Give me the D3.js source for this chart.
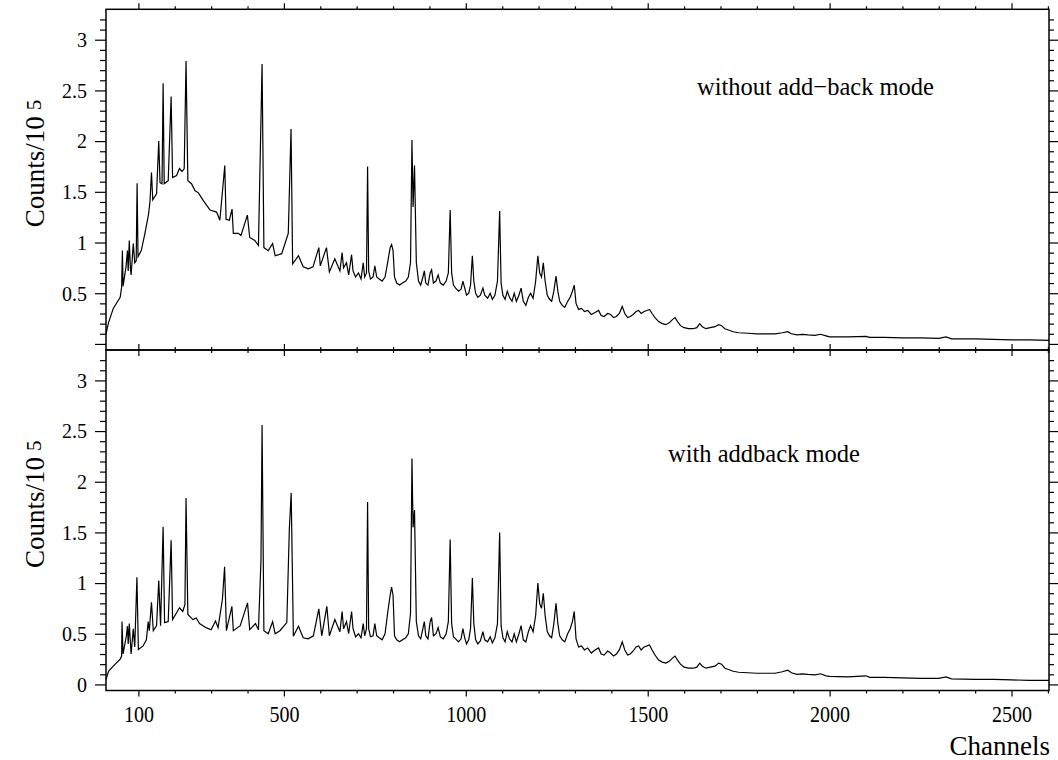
<!DOCTYPE html>
<html>
<head>
<meta charset="utf-8">
<script src="https://cdn.jsdelivr.net/npm/d3@7"></script>
<style>
  body { margin: 0; background: #fff; }
  text { font-family: "Liberation Serif", "DejaVu Serif", serif; fill: #000; }
</style>
</head>
<body>
<div id="chart"></div>
<script>
// spectrum: channel positions and counts (x 10^5)
var topChannels = [11,18,31,50,54,56,58,66,70,72,75,78,80,86,90,94,96.5,99,108,118,128,132,136,139.5,150,156,159.5,165,168,171,182,190,194,205,213,220,226,231,236,246,256,265,279,297,315,324,337.5,341,350,357.5,361,375,382,399.6,406,420,430,440,445,457,469,476,494,512,519.6,524,540,553,567,580,596,600,617,625,640,
  654,660,664,672,678,686,690,697,705,712,718,722,727,730,733,738,745,750,755,762,770,778,785,792,796,800,804,810,818,826,835,842,848,852,855,859,864,870,876,882,886,890,896,902,906,911,918,924,930,938,946,952,957,961,966,972,980,987,992,997,
  1002,1008,1013,1018,1022,1027,1033,1040,1047,1052,1060,1067,1073,1080,1087,1093,1097,1102,1108,1114,1120,1127,1133,1139,1146,1152,1158,1165,1172,1178,1185,1192,1198,1203,1208,1213,1218,1224,1230,1236,1242,1248,1253,1258,1265,1272,1280,1287,1293,1298,
  1303,1310,1318,1326,1335,1345,1355,1365,1372,1380,1390,1398,1406,1414,1422,1430,1437,1445,1452,1460,1468,1475,1482,1490,1498,1505,1512,1520,1530,1540,1550,1560,1568,1575,1582,1590,1600,1612,1625,1635,1643,1650,1660,1672,1685,1695,1703,1712,
  1720,1735,1750,1775,1800,1825,1850,1870,1885,1895,1910,1925,1940,1960,1975,1990,2000,2050,2100,2110,2150,2200,2250,2300,2320,2335,2400,2450,2500,2550,2603];
var topCounts = [0.10,0.21,0.35,0.46,0.56,0.92,0.57,0.76,0.92,0.72,1.02,0.75,0.68,0.99,0.80,0.82,1.585,0.86,0.92,1.09,1.28,1.41,1.69,1.42,1.48,2.00,1.59,1.58,2.57,1.58,1.61,2.44,1.64,1.66,1.73,1.70,1.73,2.79,1.61,1.58,1.51,1.49,1.41,1.32,1.30,1.22,1.76,1.23,1.22,1.33,1.09,1.09,1.07,1.27,1.05,1.02,0.97,2.76,0.95,0.92,0.99,0.87,0.89,1.09,2.12,0.79,0.87,0.76,0.74,0.76,0.95,0.77,0.95,0.71,0.84,
  0.72,0.90,0.75,0.80,0.68,0.88,0.72,0.66,0.70,0.64,0.80,0.66,0.70,1.75,0.72,0.64,0.66,0.77,0.66,0.64,0.62,0.66,0.80,0.95,0.98,0.92,0.66,0.60,0.58,0.60,0.62,0.66,0.80,2.01,1.35,1.76,0.80,0.62,0.58,0.66,0.72,0.60,0.58,0.70,0.73,0.60,0.62,0.68,0.60,0.58,0.62,0.70,1.32,0.70,0.58,0.55,0.52,0.54,0.62,0.55,
  0.48,0.50,0.58,0.87,0.62,0.50,0.46,0.48,0.55,0.48,0.45,0.50,0.44,0.48,0.62,1.31,0.60,0.48,0.44,0.52,0.46,0.42,0.50,0.42,0.48,0.55,0.42,0.38,0.46,0.50,0.45,0.62,0.87,0.70,0.66,0.80,0.62,0.48,0.44,0.42,0.52,0.67,0.52,0.42,0.38,0.36,0.42,0.46,0.52,0.58,
  0.40,0.34,0.35,0.32,0.33,0.29,0.31,0.33,0.28,0.27,0.30,0.29,0.26,0.27,0.30,0.37,0.30,0.26,0.27,0.29,0.32,0.33,0.30,0.32,0.33,0.34,0.30,0.26,0.22,0.20,0.19,0.21,0.24,0.26,0.22,0.18,0.16,0.15,0.15,0.16,0.20,0.17,0.15,0.16,0.17,0.19,0.18,0.15,
  0.14,0.12,0.11,0.105,0.10,0.10,0.10,0.11,0.12,0.10,0.09,0.095,0.09,0.085,0.095,0.08,0.07,0.07,0.075,0.065,0.065,0.06,0.06,0.055,0.07,0.05,0.05,0.045,0.04,0.04,0.035];

var bottomChannels = [11,18,31,50,54,55,58,67,70,72,75,80,86,90,96,100,113,122,127,130,136,141,150,156,161,168,172,182,190,194,205,213,222,228,231,236,250,259,268,286,300,312,319,331,337,342,357,361,380,400,406,422,430,437,440,445,457,469,476,489,508,515,520,526,540,553,567,581,596,604,618,625,640,
  654,660,664,672,678,686,690,697,705,712,718,722,727,730,733,738,745,750,755,762,770,778,785,792,796,800,804,810,818,826,835,842,848,852,855,859,864,870,876,882,886,890,896,902,906,911,918,924,930,938,946,952,957,961,966,972,980,987,992,997,
  1002,1008,1013,1018,1022,1027,1033,1040,1047,1052,1060,1067,1073,1080,1087,1093,1097,1102,1108,1114,1120,1127,1133,1139,1146,1152,1158,1165,1172,1178,1185,1192,1198,1203,1208,1213,1218,1224,1230,1236,1242,1248,1253,1258,1265,1272,1280,1287,1293,1298,
  1303,1310,1318,1326,1335,1345,1355,1365,1372,1380,1390,1398,1406,1414,1422,1430,1437,1445,1452,1460,1468,1475,1482,1490,1498,1505,1512,1520,1530,1540,1550,1560,1568,1575,1582,1590,1600,1612,1625,1635,1643,1650,1660,1672,1685,1695,1703,1712,
  1720,1735,1750,1775,1800,1825,1850,1870,1885,1895,1910,1925,1940,1960,1975,1990,2000,2050,2100,2110,2150,2200,2250,2300,2320,2335,2400,2450,2500,2550,2603];
var bottomCounts = [0.05,0.13,0.18,0.25,0.28,0.62,0.30,0.48,0.575,0.40,0.60,0.30,0.55,0.37,1.058,0.345,0.38,0.44,0.62,0.53,0.81,0.53,0.58,1.026,0.58,1.555,0.61,0.62,1.423,0.64,0.707,0.756,0.72,0.79,1.84,0.69,0.64,0.655,0.60,0.56,0.54,0.625,0.56,0.84,1.16,0.53,0.77,0.53,0.58,0.805,0.54,0.60,0.54,1.23,2.56,0.53,0.50,0.62,0.50,0.53,0.61,1.54,1.89,0.476,0.575,0.46,0.45,0.48,0.746,0.48,0.77,0.48,0.64,
  0.52,0.72,0.55,0.62,0.50,0.72,0.55,0.47,0.50,0.46,0.60,0.48,0.55,1.80,0.55,0.47,0.48,0.60,0.48,0.46,0.44,0.50,0.70,0.88,0.96,0.88,0.48,0.44,0.42,0.44,0.46,0.50,0.70,2.23,1.55,1.72,0.62,0.48,0.45,0.55,0.62,0.48,0.45,0.62,0.66,0.48,0.50,0.56,0.47,0.45,0.50,0.62,1.43,0.60,0.47,0.45,0.42,0.45,0.55,0.46,
  0.40,0.44,0.55,1.05,0.60,0.44,0.40,0.43,0.52,0.44,0.42,0.47,0.41,0.46,0.60,1.50,0.58,0.46,0.42,0.52,0.45,0.42,0.50,0.42,0.50,0.58,0.44,0.42,0.52,0.58,0.52,0.68,1.00,0.80,0.75,0.90,0.68,0.52,0.48,0.46,0.60,0.80,0.60,0.48,0.44,0.42,0.50,0.55,0.62,0.72,
  0.45,0.37,0.38,0.34,0.36,0.31,0.34,0.36,0.30,0.29,0.33,0.31,0.28,0.30,0.34,0.42,0.34,0.29,0.30,0.33,0.37,0.38,0.34,0.37,0.38,0.39,0.34,0.29,0.24,0.22,0.21,0.23,0.26,0.28,0.24,0.20,0.17,0.16,0.16,0.17,0.21,0.18,0.16,0.17,0.18,0.21,0.20,0.16,
  0.15,0.13,0.12,0.115,0.11,0.11,0.11,0.125,0.14,0.115,0.10,0.105,0.10,0.095,0.105,0.085,0.08,0.075,0.085,0.07,0.07,0.065,0.06,0.06,0.075,0.055,0.05,0.05,0.045,0.04,0.04];

var xTickLabels = [100, 500, 1000, 1500, 2000, 2500];
var yTickValues = [0, 0.5, 1, 1.5, 2, 2.5, 3];
var panelLabels = ["without add\u2212back mode", "with addback mode"];

var width = 1058, height = 760;
var left = 106, right = 1049;
var panels = [
  { top: 9.3, bottom: 350, channels: topChannels, counts: topCounts, label: panelLabels[0], lx: 697, ly: 95, showZero: false },
  { top: 350, bottom: 690.5, channels: bottomChannels, counts: bottomCounts, label: panelLabels[1], lx: 668, ly: 461.7, showZero: true }
];

var svg = d3.select("#chart").append("svg")
  .attr("width", width)
  .attr("height", height);

var x = d3.scaleLinear().domain([11, 2603]).range([left, right]);

var xMinor = d3.range(200, 2700, 100).filter(function(d) { return xTickLabels.indexOf(d) < 0 && d <= 2600; });
var yMinor = d3.range(0, 33).map(function(i) { return i / 10; }).filter(function(d) { return Math.round(d * 10) % 5 !== 0; });

function styleAxis(g) {
  g.select(".domain").remove();
  g.selectAll("line").attr("stroke", "#000").attr("stroke-width", 1.2);
}

panels.forEach(function(p) {
  var y = d3.scaleLinear().domain([-0.06, 3.30]).range([p.bottom, p.top]);
  var g = svg.append("g");

  // spectrum
  var pts = p.channels.map(function(c, i) { return [c, p.counts[i]]; });
  var line = d3.line()
    .x(function(d) { return x(d[0]); })
    .y(function(d) { return y(d[1]); });
  g.append("path")
    .datum(pts)
    .attr("d", line)
    .attr("fill", "none")
    .attr("stroke", "#000")
    .attr("stroke-width", 1.2);

  // left axis
  g.append("g").attr("transform", "translate(" + left + ",0)")
    .call(d3.axisLeft(y).tickValues(yMinor).tickSize(6).tickFormat(""))
    .call(styleAxis);
  var ly = g.append("g").attr("transform", "translate(" + left + ",0)")
    .call(d3.axisLeft(y).tickValues(yTickValues).tickSize(11).tickPadding(8)
      .tickFormat(function(d) { return (d === 0 && !p.showZero) ? "" : d3.format("")(d); }))
    .call(styleAxis);
  ly.selectAll("text").style("font-size", "20px").attr("dy", "0.34em");

  // right axis
  g.append("g").attr("transform", "translate(" + right + ",0)")
    .call(d3.axisRight(y).tickValues(yMinor).tickSize(5).tickFormat(""))
    .call(styleAxis);
  g.append("g").attr("transform", "translate(" + right + ",0)")
    .call(d3.axisRight(y).tickValues(yTickValues).tickSize(9).tickFormat(""))
    .call(styleAxis);

  // top and bottom ticks
  [[p.top, d3.axisTop], [p.bottom, d3.axisBottom]].forEach(function(a) {
    g.append("g").attr("transform", "translate(0," + a[0] + ")")
      .call(a[1](x).tickValues(xMinor).tickSize(3).tickFormat(""))
      .call(styleAxis);
    g.append("g").attr("transform", "translate(0," + a[0] + ")")
      .call(a[1](x).tickValues(xTickLabels).tickSize(6).tickFormat(""))
      .call(styleAxis);
  });

  // frame
  g.append("rect")
    .attr("x", left).attr("y", p.top)
    .attr("width", right - left).attr("height", p.bottom - p.top)
    .attr("fill", "none").attr("stroke", "#000").attr("stroke-width", 1.5);

  // panel label
  g.append("text")
    .attr("x", p.lx).attr("y", p.ly)
    .style("font-size", "24.5px")
    .text(p.label);

  // y title
  var t = g.append("text")
    .attr("transform", "translate(44," + (p.top + 218) + ") rotate(-90)")
    .style("font-size", "27px");
  t.append("tspan").text("Counts/10");
  t.append("tspan").attr("dx", 6).attr("dy", -3).style("font-size", "21px").text("5");
});

// bottom axis labels
var xb = svg.append("g").attr("transform", "translate(0," + panels[1].bottom + ")")
  .call(d3.axisBottom(x).tickValues(xTickLabels).tickSize(0).tickFormat(d3.format("")))
  .call(styleAxis);
xb.selectAll("text")
  .style("font-size", "23px")
  .attr("y", 32).attr("dy", null)
  .attr("transform", "scale(0.87,1)");

svg.append("text")
  .attr("x", 1050).attr("y", 755)
  .attr("text-anchor", "end")
  .style("font-size", "27px")
  .text("Channels");
</script>
</body>
</html>
